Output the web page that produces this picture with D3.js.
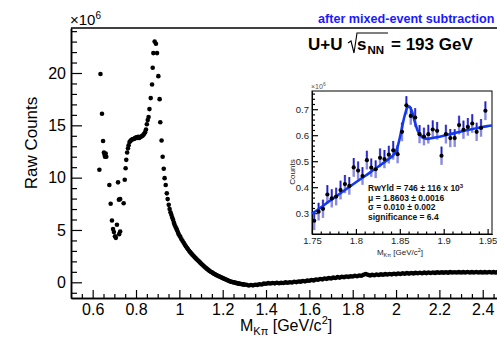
<!DOCTYPE html>
<html>
<head>
<meta charset="utf-8">
<script src="https://cdn.jsdelivr.net/npm/d3@7"></script>
<style>
body { margin: 0; background: #fff; }
svg { display: block; font-family: "Liberation Sans", Arial, sans-serif; }
</style>
</head>
<body>
<div id="chart"></div>
<script>
var lowMass = [0.631,0.636,0.643,0.648,0.652,0.655,0.657,0.660,0.663,0.677,0.683,0.689,0.694,0.698,0.703,0.707,
  0.712,0.717,0.721,0.722,0.727,0.727,0.743,0.748,0.752,0.755,0.759,0.763,0.766,0.770,0.774,0.778,0.782,0.786,
  0.790,0.794,0.798,0.802,0.806,0.810,0.814,0.818,0.822,0.826,0.830,0.834,0.838,0.842,0.846,0.850,0.854,0.858,
  0.862,0.868,0.874,0.877,0.880,0.886,0.892,0.897,0.903,0.909,0.912,0.918,0.923,0.928,0.932,0.937,0.942,0.946,
  0.951,0.955,0.959,0.963,0.967,0.971,0.975,0.978,0.982,0.986,0.989,0.993,0.997,1.001,1.005,
  1.010,1.015,1.020,1.025,1.030,1.035,1.040,1.045,1.050,1.055,1.060,1.065,1.070,1.075,1.080,1.085,1.090,1.095,
  1.100,1.105,1.110,1.115,1.120,1.125,1.130,1.135,1.140,1.145,1.150,1.155,1.160,1.165,1.170,1.175,1.180,1.185,
  1.190,1.195,1.200,1.205,1.210,1.215,1.220,1.225,1.230,1.235,1.240,1.245,1.250,1.255,1.260,1.265,1.270,1.275,
  1.280,1.285,1.290,1.295,1.300];
var lowCounts = [10.75,19.9,16.1,13.5,12.4,12.2,12.0,12.3,12.0,9.3,7.5,5.9,5.1,4.8,4.4,4.25,
  5.5,9.55,7.9,4.6,7.95,4.85,7.55,9.8,10.9,11.7,12.4,12.8,13.1,13.4,13.5,13.6,13.65,13.7,
  13.7,13.75,13.8,13.85,13.8,13.9,13.8,13.85,13.9,13.95,14.0,14.1,14.2,14.35,14.6,15.1,15.5,15.8,
  16.55,17.6,18.9,20.5,21.9,23.0,22.8,21.9,19.7,17.5,15.3,13.55,12.0,10.85,9.95,9.3,8.5,7.95,
  7.4,7.0,6.7,6.45,6.2,5.97,5.7,5.5,5.3,5.15,5.0,4.8,4.6,4.45,4.32,
  4.12,3.95,3.78,3.61,3.45,3.30,3.15,3.01,2.88,2.76,2.64,2.53,2.42,2.31,2.20,2.10,2.00,1.90,
  1.80,1.70,1.60,1.51,1.42,1.33,1.25,1.16,1.08,1.01,0.95,0.88,0.82,0.76,0.70,0.65,0.60,0.55,
  0.50,0.45,0.40,0.36,0.32,0.27,0.22,0.17,0.12,0.08,0.05,0.02,0.00,-0.03,-0.05,-0.08,-0.10,-0.13,
  -0.15,-0.16,-0.18,-0.20,-0.22];

// ---- main histogram, tail: bins of 0.01 starting at 1.31 ----
var tailStart = 1.31, tailWidth = 0.01;
var tailCounts = [-0.24,-0.30,-0.26,-0.29,-0.23,-0.25,-0.18,-0.21,-0.13,-0.14,
  -0.08,-0.11,-0.07,-0.10,-0.04,-0.09,-0.05,-0.07,-0.01,-0.04,
  0.01,-0.02,0.05,0.02,0.08,0.06,0.12,0.09,0.16,0.15,
  0.22,0.18,0.27,0.24,0.32,0.28,0.36,0.33,0.40,0.37,
  0.45,0.41,0.49,0.45,0.52,0.49,0.55,0.52,0.57,0.56,
  0.62,0.58,0.65,0.62,0.72,0.80,0.72,0.66,0.71,0.68,
  0.74,0.70,0.76,0.72,0.78,0.74,0.80,0.76,0.82,0.78,
  0.84,0.80,0.86,0.82,0.88,0.83,0.89,0.85,0.90,0.86,
  0.91,0.87,0.92,0.88,0.93,0.89,0.94,0.90,0.95,0.91,
  0.95,0.92,0.96,0.92,0.97,0.93,0.96,0.93,0.97,0.94,
  0.97,0.93,0.98,0.94,0.97,0.93,0.98,0.94,0.97,0.93,
  0.97,0.94,0.98,0.93,0.97,0.94,0.98,0.94,0.97];

var xTicks = [0.6,0.8,1,1.2,1.4,1.6,1.8,2,2.2,2.4];
var yTicks = [0,5,10,15,20];

// ---- inset: D0 region ----
var inMass = [1.7525,1.7575,1.7625,1.7675,1.7725,1.7775,1.7825,1.7875,1.7925,1.7975,
  1.8025,1.8075,1.8125,1.8175,1.8225,1.8275,1.8325,1.8375,1.8425,1.8475,
  1.8525,1.8575,1.8625,1.8675,1.8725,1.8775,1.8825,1.8875,1.8925,1.8975,
  1.9025,1.9075,1.9125,1.9175,1.9225,1.9275,1.9325,1.9375,1.9425,1.9475];
var inCounts = [0.271,0.306,0.317,0.372,0.357,0.364,0.389,0.412,0.405,0.476,
  0.464,0.443,0.504,0.475,0.469,0.513,0.508,0.525,0.542,0.527,
  0.613,0.715,0.674,0.668,0.604,0.595,0.604,0.622,0.617,0.521,
  0.604,0.589,0.589,0.639,0.621,0.632,0.645,0.613,0.628,0.694];
var inErrors = [0.036,0.034,0.035,0.036,0.035,0.034,0.036,0.035,0.034,0.036,
  0.035,0.034,0.036,0.035,0.034,0.036,0.035,0.034,0.036,0.035,
  0.036,0.035,0.034,0.036,0.035,0.034,0.036,0.035,0.034,0.035,
  0.036,0.035,0.034,0.036,0.035,0.034,0.036,0.035,0.034,0.036];
var fitMass = [1.750,1.760,1.770,1.780,1.790,1.800,1.810,1.820,1.830,1.838,1.843,1.847,1.851,1.855,1.859,
  1.861,1.864,1.867,1.870,1.874,1.878,1.882,1.890,1.900,1.910,1.920,1.930,1.940,1.950,1.955];
var fitCounts = [0.298,0.322,0.347,0.371,0.395,0.419,0.442,0.466,0.490,0.510,0.525,0.550,0.605,0.668,0.708,
  0.710,0.690,0.652,0.620,0.597,0.588,0.586,0.591,0.598,0.606,0.614,0.622,0.629,0.635,0.637];
var inXTicks = [1.75,1.8,1.85,1.9,1.95];
var inYTicks = [0.3,0.4,0.5,0.6,0.7];
var fitLabels = ["μ = 1.8603 ± 0.0016", "σ = 0.010 ± 0.002", "significance = 6.4"];

// ---- drawing ----
var svg = d3.select("#chart").append("svg").attr("width", 497).attr("height", 339);
svg.append("rect").attr("width", 497).attr("height", 339).attr("fill", "#fff");

var x = d3.scaleLinear().domain([0.5, 2.5]).range([71, 504.4]);
var y = d3.scaleLinear().domain([-1.5, 24.3]).range([298, 28]);

function styleAxis(g, size) {
  g.select(".domain").attr("stroke", "#000").attr("stroke-width", 1.5);
  g.selectAll(".tick line").attr("stroke", "#000").attr("stroke-width", 1.2);
  g.selectAll("text").attr("font-size", size).attr("fill", "#000")
    .attr("font-family", "'Liberation Sans', Arial, sans-serif");
}

// minor ticks first
var xMinor = d3.range(0.55, 2.5, 0.05).filter(function(v) { return Math.abs(v*5 - Math.round(v*5)) > 0.01; });
svg.append("g").attr("transform", "translate(0,298)")
  .call(d3.axisBottom(x).tickValues(xMinor).tickSizeInner(-4).tickSizeOuter(0).tickFormat(""))
  .call(function(g) { styleAxis(g, 16); });
var yMinor = d3.range(-1, 25, 1).filter(function(v) { return v % 5 !== 0; });
svg.append("g").attr("transform", "translate(71,0)")
  .call(d3.axisLeft(y).tickValues(yMinor).tickSizeInner(-6).tickSizeOuter(0).tickFormat(""))
  .call(function(g) { styleAxis(g, 16); });

svg.append("g").attr("transform", "translate(0,298)")
  .call(d3.axisBottom(x).tickValues(xTicks).tickSizeInner(-8).tickSizeOuter(0).tickPadding(6)
    .tickFormat(d3.format("~g")))
  .call(function(g) { styleAxis(g, 16); });
svg.append("g").attr("transform", "translate(71,0)")
  .call(d3.axisLeft(y).tickValues(yTicks).tickSizeInner(-11).tickSizeOuter(0).tickPadding(5))
  .call(function(g) { styleAxis(g, 16); });

// top frame line
svg.append("line").attr("x1", 71).attr("x2", 497).attr("y1", 28).attr("y2", 28)
  .attr("stroke", "#000").attr("stroke-width", 1.5);

// data points
var mainPts = lowMass.map(function(m, i) { return [m, lowCounts[i]]; })
  .concat(tailCounts.map(function(c, i) { return [tailStart + i * tailWidth, c]; }));
svg.append("g").selectAll("circle").data(mainPts).enter().append("circle")
  .attr("cx", function(d) { return x(d[0]); })
  .attr("cy", function(d) { return y(d[1]); })
  .attr("r", 2.3)
  .attr("fill", "#000");

// axis titles
svg.append("text").attr("transform", "translate(37,143) rotate(-90)")
  .attr("text-anchor", "middle").attr("font-size", 17).text("Raw Counts");
var xt = svg.append("text").attr("x", 240).attr("y", 331).attr("font-size", 16);
xt.append("tspan").text("M");
xt.append("tspan").attr("font-size", 11).attr("dy", 4).text("Kπ");
xt.append("tspan").attr("dy", -4).text(" [GeV/c");
xt.append("tspan").attr("font-size", 11).attr("dy", -7).text("2");
xt.append("tspan").attr("dy", 7).text("]");

var ex = svg.append("text").attr("x", 70).attr("y", 25).attr("font-size", 15);
ex.append("tspan").text("×10");
ex.append("tspan").attr("font-size", 10).attr("dy", -6).text("6");

// labels
svg.append("text").attr("x", 318).attr("y", 23).attr("font-size", 12.6).attr("font-weight", "bold")
  .attr("fill", "#1a1aff").text("after mixed-event subtraction");
svg.append("text").attr("x", 308).attr("y", 50).attr("font-size", 17).attr("font-weight", "bold").text("U+U");
svg.append("path").attr("d", "M348,43 L351,41 L354,53 L357,33 L388,33")
  .attr("fill", "none").attr("stroke", "#000").attr("stroke-width", 1.1);
svg.append("text").attr("x", 357).attr("y", 50).attr("font-size", 17).attr("font-weight", "bold").text("s");
svg.append("text").attr("x", 367.5).attr("y", 54).attr("font-size", 11.5).attr("font-weight", "bold").text("NN");
svg.append("text").attr("x", 391).attr("y", 50).attr("font-size", 17).attr("font-weight", "bold").text("= 193 GeV");

// ---- inset ----
var ix = d3.scaleLinear().domain([1.75, 1.955]).range([312, 492]);
var iy = d3.scaleLinear().domain([0.22, 0.77]).range([234, 91]);
var inset = svg.append("g");
inset.append("rect").attr("x", 312).attr("y", 91).attr("width", 180).attr("height", 143)
  .attr("fill", "#fff").attr("stroke", "#000").attr("stroke-width", 1);

var ixMinor = d3.range(1.76, 1.955, 0.01).filter(function(v) { return Math.abs(v*20 - Math.round(v*20)) > 0.01; });
var iyMinor = d3.range(0.24, 0.77, 0.02).filter(function(v) { return Math.abs(v*10 - Math.round(v*10)) > 0.01; });
inset.append("g").attr("transform", "translate(0,234)")
  .call(d3.axisBottom(ix).tickValues(ixMinor).tickSizeInner(-2.5).tickSizeOuter(0).tickFormat(""))
  .call(function(g) { styleAxis(g, 9.5); g.select(".domain").attr("stroke-width", 1); });
inset.append("g").attr("transform", "translate(312,0)")
  .call(d3.axisLeft(iy).tickValues(iyMinor).tickSizeInner(-3).tickSizeOuter(0).tickFormat(""))
  .call(function(g) { styleAxis(g, 9.5); g.select(".domain").attr("stroke-width", 1); });
inset.append("g").attr("transform", "translate(0,234)")
  .call(d3.axisBottom(ix).tickValues(inXTicks).tickSizeInner(-5).tickSizeOuter(0).tickPadding(3)
    .tickFormat(d3.format("~g")))
  .call(function(g) { styleAxis(g, 9.5); g.select(".domain").attr("stroke-width", 1);
    g.selectAll("text").attr("fill", "#222"); });
inset.append("g").attr("transform", "translate(312,0)")
  .call(d3.axisLeft(iy).tickValues(inYTicks).tickSizeInner(-6).tickSizeOuter(0).tickPadding(3)
    .tickFormat(d3.format(".1f")))
  .call(function(g) { styleAxis(g, 9.5); g.select(".domain").attr("stroke-width", 1);
    g.selectAll("text").attr("fill", "#222"); });

// error bars
var inPts = inMass.map(function(m, i) { return { m: m, c: inCounts[i], e: inErrors[i] }; });
var eb = inset.append("g");
eb.selectAll("rect").data(inPts).enter().append("rect")
  .attr("x", function(d) { return ix(d.m) - 1.2; })
  .attr("width", 2.4)
  .attr("y", function(d) { return iy(d.c + d.e); })
  .attr("height", function(d) { return iy(d.c - d.e) - iy(d.c + d.e); })
  .attr("fill", "#8a8ae0");
eb.selectAll("line").data(inPts).enter().append("line")
  .attr("x1", function(d) { return ix(d.m); })
  .attr("x2", function(d) { return ix(d.m); })
  .attr("y1", function(d) { return iy(d.c + d.e); })
  .attr("y2", function(d) { return iy(d.c); })
  .attr("stroke", "#2020c8").attr("stroke-width", 1.4);

// fit
var fitLine = d3.line().x(function(d) { return ix(d[0]); }).y(function(d) { return iy(d[1]); })
  .curve(d3.curveMonotoneX);
inset.append("path").datum(fitMass.map(function(m, i) { return [m, fitCounts[i]]; }))
  .attr("d", fitLine).attr("fill", "none").attr("stroke", "#1238f0").attr("stroke-width", 2.6);

inset.append("g").selectAll("circle").data(inPts).enter().append("circle")
  .attr("cx", function(d) { return ix(d.m); })
  .attr("cy", function(d) { return iy(d.c); })
  .attr("r", 2.1).attr("fill", "#000");

// inset titles
inset.append("text").attr("transform", "translate(295,172) rotate(-90)")
  .attr("text-anchor", "middle").attr("font-size", 8).attr("fill", "#222").text("Counts");
var ixt = inset.append("text").attr("x", 400).attr("y", 255).attr("text-anchor", "middle")
  .attr("font-size", 8).attr("fill", "#222");
ixt.append("tspan").text("M");
ixt.append("tspan").attr("font-size", 5.5).attr("dy", 2).text("Kπ");
ixt.append("tspan").attr("dy", -2).text(" [GeV/c");
ixt.append("tspan").attr("font-size", 5.5).attr("dy", -3).text("2");
ixt.append("tspan").attr("dy", 3).text("]");
var iex = inset.append("text").attr("x", 311).attr("y", 89).attr("font-size", 7).attr("fill", "#555");
iex.append("tspan").text("×10");
iex.append("tspan").attr("font-size", 5).attr("dy", -3).text("6");

// fit results
var rw = inset.append("text").attr("x", 368).attr("y", 190.5).attr("font-size", 8.5)
  .attr("font-weight", "bold").attr("fill", "#111");
rw.append("tspan").text("RwYld = 746 ± 116 x 10");
rw.append("tspan").attr("font-size", 6).attr("dy", -3).text("3");
inset.append("g").selectAll("text").data(fitLabels).enter().append("text")
  .attr("x", 368).attr("y", function(d, i) { return 200.5 + i * 9.6; })
  .attr("font-size", 8.5).attr("font-weight", "bold").attr("fill", "#111")
  .text(function(d) { return d; });
</script>
</body>
</html>
